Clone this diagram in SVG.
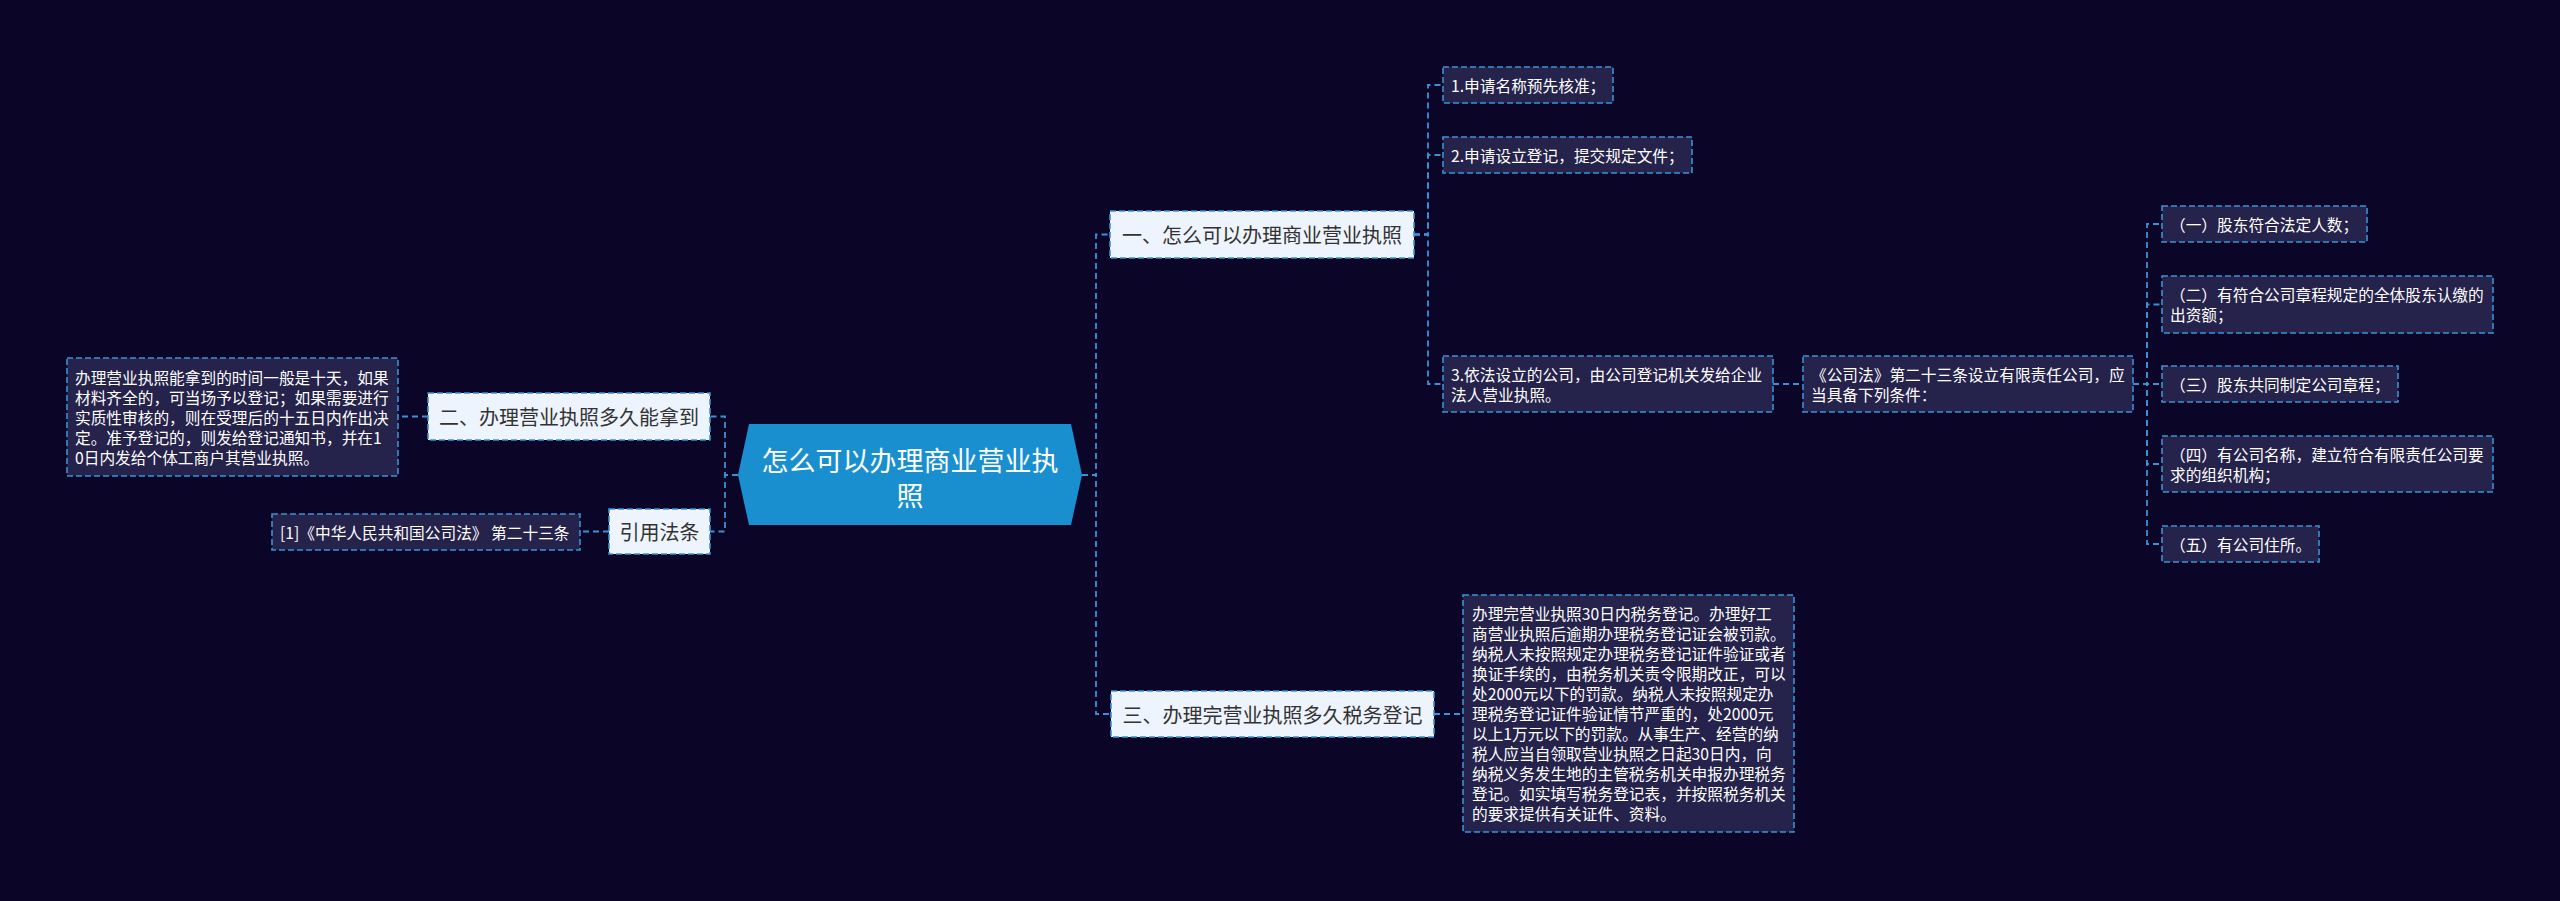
<svg xmlns="http://www.w3.org/2000/svg" width="2560" height="901" viewBox="0 0 2560 901">
<style>
.bg{fill:#0b0628}
.conn{fill:none;stroke:#3a92d4;stroke-width:1.8;stroke-dasharray:6 4}
.main rect{fill:#eef4fd;stroke:#3a92d4;stroke-width:1.6;stroke-dasharray:6 3}
.main text{font-family:"Noto Sans CJK SC","Noto Sans",sans-serif;font-size:20px;fill:#333;dominant-baseline:central;text-anchor:middle}
.leaf rect{fill:#25224b;stroke:#3a92d4;stroke-width:1.6;stroke-dasharray:6 3}
.leaf text{font-family:"Noto Sans CJK SC","Noto Sans",sans-serif;font-size:15.7px;fill:#ffffff;dominant-baseline:central}
.root text{font-family:"Noto Sans CJK SC","Noto Sans",sans-serif;font-size:27px;fill:#ffffff;dominant-baseline:central;text-anchor:middle}
</style>
<rect class="bg" x="0" y="0" width="2560" height="901"/>
<g id="connectors">
<path class="conn" d="M1082,475 H1096 V234.5 H1110"/>
<path class="conn" d="M1082,475 H1096 V714 H1110"/>
<path class="conn" d="M738,475 H725 V416.5 H710"/>
<path class="conn" d="M738,475 H725 V531.5 H710"/>
<path class="conn" d="M428,416.5 H398"/>
<path class="conn" d="M609,531.5 H580"/>
<path class="conn" d="M1434,714 H1463"/>
<path class="conn" d="M1414,234.5 H1428 V85 H1443"/>
<path class="conn" d="M1414,234.5 H1428 V155 H1443"/>
<path class="conn" d="M1414,234.5 H1428 V384 H1443"/>
<path class="conn" d="M1773,384 H1803"/>
<path class="conn" d="M2133,384 H2147 V224 H2162"/>
<path class="conn" d="M2133,384 H2147 V304.5 H2162"/>
<path class="conn" d="M2133,384 H2147 V384 H2162"/>
<path class="conn" d="M2133,384 H2147 V464 H2162"/>
<path class="conn" d="M2133,384 H2147 V544 H2162"/>
</g>
<g id="root" class="root">
<polygon points="738,475 749,424 1071,424 1082,475 1071,525 749,525" fill="#1a8fd0"/>
<text x="910" y="459">怎么可以办理商业营业执</text>
<text x="910" y="494">照</text>
</g>
<g id="n1" class="main">
<rect x="1110" y="211" width="304" height="47"/>
<text x="1262" y="234.5">一、怎么可以办理商业营业执照</text>
</g>
<g id="n2" class="main">
<rect x="428" y="393" width="282" height="47"/>
<text x="569" y="416.5">二、办理营业执照多久能拿到</text>
</g>
<g id="n3" class="main">
<rect x="609" y="509" width="101" height="45"/>
<text x="659.5" y="531.5">引用法条</text>
</g>
<g id="n4" class="main">
<rect x="1111" y="691" width="323" height="46"/>
<text x="1272.5" y="714">三、办理完营业执照多久税务登记</text>
</g>
<g id="leaf-n2" class="leaf">
<rect x="67" y="358" width="331" height="118"/>
<text x="75" y="377">办理营业执照能拿到的时间一般是十天，如果</text>
<text x="75" y="397">材料齐全的，可当场予以登记；如果需要进行</text>
<text x="75" y="417">实质性审核的，则在受理后的十五日内作出决</text>
<text x="75" y="437">定。准予登记的，则发给登记通知书，并在1</text>
<text x="75" y="457">0日内发给个体工商户其营业执照。</text>
</g>
<g id="leaf-law" class="leaf">
<rect x="272" y="514" width="308" height="36"/>
<text x="280" y="532">[1]《中华人民共和国公司法》 第二十三条</text>
</g>
<g id="leaf-n4" class="leaf">
<rect x="1463" y="595" width="331" height="237"/>
<text x="1472" y="613.5">办理完营业执照30日内税务登记。办理好工</text>
<text x="1472" y="633.5">商营业执照后逾期办理税务登记证会被罚款。</text>
<text x="1472" y="653.5">纳税人未按照规定办理税务登记证件验证或者</text>
<text x="1472" y="673.5">换证手续的，由税务机关责令限期改正，可以</text>
<text x="1472" y="693.5">处2000元以下的罚款。纳税人未按照规定办</text>
<text x="1472" y="713.5">理税务登记证件验证情节严重的，处2000元</text>
<text x="1472" y="733.5">以上1万元以下的罚款。从事生产、经营的纳</text>
<text x="1472" y="753.5">税人应当自领取营业执照之日起30日内，向</text>
<text x="1472" y="773.5">纳税义务发生地的主管税务机关申报办理税务</text>
<text x="1472" y="793.5">登记。如实填写税务登记表，并按照税务机关</text>
<text x="1472" y="813.5">的要求提供有关证件、资料。</text>
</g>
<g id="leaf-1" class="leaf">
<rect x="1443" y="67" width="170" height="36"/>
<text x="1451" y="85">1.申请名称预先核准；</text>
</g>
<g id="leaf-2" class="leaf">
<rect x="1443" y="137" width="249" height="36"/>
<text x="1451" y="155">2.申请设立登记，提交规定文件；</text>
</g>
<g id="leaf-3" class="leaf">
<rect x="1443" y="356" width="330" height="56"/>
<text x="1451" y="374">3.依法设立的公司，由公司登记机关发给企业</text>
<text x="1451" y="394">法人营业执照。</text>
</g>
<g id="leaf-law23" class="leaf">
<rect x="1803" y="356" width="330" height="56"/>
<text x="1811" y="374">《公司法》第二十三条设立有限责任公司，应</text>
<text x="1811" y="394">当具备下列条件：</text>
</g>
<g id="leaf-c1" class="leaf">
<rect x="2162" y="206" width="205" height="36"/>
<text x="2170" y="224">（一）股东符合法定人数；</text>
</g>
<g id="leaf-c2" class="leaf">
<rect x="2162" y="276" width="331" height="57"/>
<text x="2170" y="294.5">（二）有符合公司章程规定的全体股东认缴的</text>
<text x="2170" y="314.5">出资额；</text>
</g>
<g id="leaf-c3" class="leaf">
<rect x="2162" y="366" width="236" height="36"/>
<text x="2170" y="384">（三）股东共同制定公司章程；</text>
</g>
<g id="leaf-c4" class="leaf">
<rect x="2162" y="436" width="331" height="56"/>
<text x="2170" y="454">（四）有公司名称，建立符合有限责任公司要</text>
<text x="2170" y="474">求的组织机构；</text>
</g>
<g id="leaf-c5" class="leaf">
<rect x="2162" y="526" width="157" height="36"/>
<text x="2170" y="544">（五）有公司住所。</text>
</g>
</svg>
